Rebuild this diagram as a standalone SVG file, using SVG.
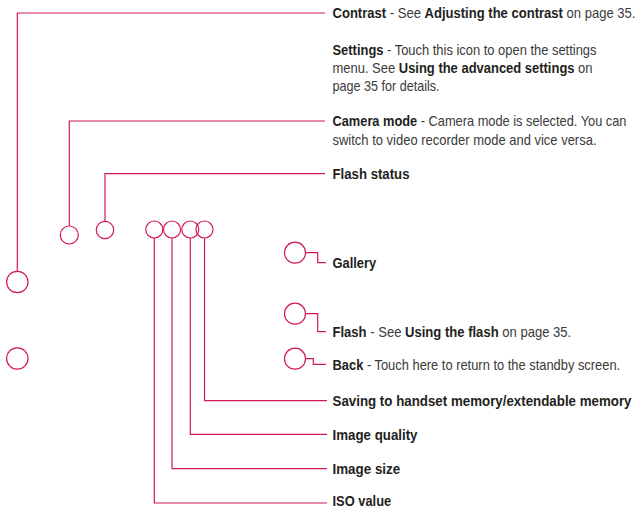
<svg xmlns="http://www.w3.org/2000/svg" width="639" height="509" viewBox="0 0 639 509">
<style>
.c{fill:none;stroke:#d2175a;stroke-width:1.2}
.l{fill:none;stroke:#d2175a;stroke-width:1.2}
text{font-family:"Liberation Sans",Arial,sans-serif;font-size:14px;fill:#3a3a3a}
.b{font-weight:bold;fill:#231f20}
</style>
<rect width="639" height="509" fill="#fff"/>
<g id="connectors">
<path class="l" d="M17.3 271.3V13H325"/>
<path class="l" d="M69.3 226V121H325"/>
<path class="l" d="M105 221.3V173.7H325"/>
<path class="l" d="M154.3 238V503H327"/>
<path class="l" d="M172 238V468.7H327"/>
<path class="l" d="M190.3 238V434.3H327"/>
<path class="l" d="M204.5 238V400.7H327"/>
<path class="l" d="M305.5 252.7H317.7V262.7H326"/>
<path class="l" d="M305.5 313.7H317.7V331.7H326"/>
<path class="l" d="M305.5 358.7H313.3V364.3H326"/>
</g>
<g id="contrast">
<circle class="c" cx="17.3" cy="282" r="10.7"/>
<text transform="translate(332.5 18) scale(0.88 1)" textLength="344.3" lengthAdjust="spacingAndGlyphs"><tspan class="b">Contrast</tspan> - See <tspan class="b">Adjusting the contrast</tspan> on page 35.</text>
</g>
<g id="settings">
<circle class="c" cx="17.3" cy="358.5" r="10.7"/>
<text transform="translate(332.5 55) scale(0.88 1)" textLength="300" lengthAdjust="spacingAndGlyphs"><tspan class="b">Settings</tspan> - Touch this icon to open the settings</text>
<text transform="translate(332.5 73) scale(0.88 1)" textLength="295.5" lengthAdjust="spacingAndGlyphs">menu. See <tspan class="b">Using the advanced settings</tspan> on</text>
<text transform="translate(332.5 91) scale(0.88 1)" textLength="121.6" lengthAdjust="spacingAndGlyphs">page 35 for details.</text>
</g>
<g id="camera-mode">
<circle class="c" cx="69.3" cy="235" r="9"/>
<text transform="translate(332.5 126) scale(0.88 1)" textLength="334.1" lengthAdjust="spacingAndGlyphs"><tspan class="b">Camera mode</tspan> - Camera mode is selected. You can</text>
<text transform="translate(332.5 144.5) scale(0.88 1)" textLength="300" lengthAdjust="spacingAndGlyphs">switch to video recorder mode and vice versa.</text>
</g>
<g id="flash-status">
<circle class="c" cx="105" cy="230" r="8.7"/>
<text class="b" transform="translate(332.5 179) scale(0.88 1)" textLength="87.5" lengthAdjust="spacingAndGlyphs">Flash status</text>
</g>
<g id="iso-value">
<circle class="c" cx="154.3" cy="229.5" r="8.5"/>
<text class="b" transform="translate(332.5 506) scale(0.88 1)" textLength="66.7" lengthAdjust="spacingAndGlyphs">ISO value</text>
</g>
<g id="image-size">
<circle class="c" cx="172" cy="229.5" r="8.5"/>
<text class="b" transform="translate(332.5 474) scale(0.88 1)" textLength="76.9" lengthAdjust="spacingAndGlyphs">Image size</text>
</g>
<g id="image-quality">
<circle class="c" cx="190.3" cy="229.5" r="8.5"/>
<text class="b" transform="translate(332.5 439.5) scale(0.88 1)" textLength="96.6" lengthAdjust="spacingAndGlyphs">Image quality</text>
</g>
<g id="saving">
<circle class="c" cx="204.5" cy="229.5" r="8.5"/>
<text class="b" transform="translate(332.5 406) scale(0.88 1)" textLength="339.8" lengthAdjust="spacingAndGlyphs">Saving to handset memory/extendable memory</text>
</g>
<g id="gallery">
<circle class="c" cx="295" cy="252.7" r="10.5"/>
<text class="b" transform="translate(332.5 268) scale(0.88 1)" textLength="49.7" lengthAdjust="spacingAndGlyphs">Gallery</text>
</g>
<g id="flash">
<circle class="c" cx="295" cy="313.7" r="10.5"/>
<text transform="translate(332.5 337) scale(0.88 1)" textLength="271.3" lengthAdjust="spacingAndGlyphs"><tspan class="b">Flash</tspan> - See <tspan class="b">Using the flash</tspan> on page 35.</text>
</g>
<g id="back">
<circle class="c" cx="295" cy="358.7" r="10.5"/>
<text transform="translate(332.5 369.5) scale(0.88 1)" textLength="326.9" lengthAdjust="spacingAndGlyphs"><tspan class="b">Back</tspan> - Touch here to return to the standby screen.</text>
</g>
</svg>
